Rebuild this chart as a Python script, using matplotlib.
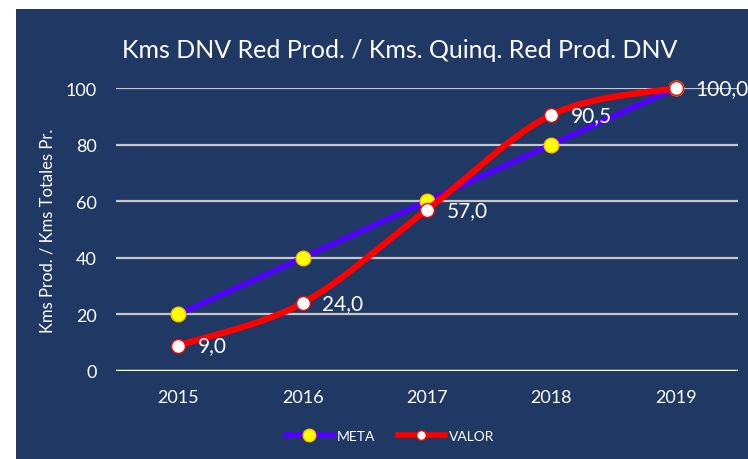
import numpy as np
import matplotlib.pyplot as plt
from matplotlib.lines import Line2D

# ================= DATA =================
years = ["2015", "2016", "2017", "2018", "2019"]
meta = [20, 40, 60, 80, 100]
valor = [9.0, 24.0, 57.0, 90.5, 100.0]
valor_labels = ["9,0", "24,0", "57,0", "90,5", "100,0"]
y_ticks = [0, 20, 40, 60, 80, 100]

# ================= STYLE =================
NAVY = "#203864"
FONT = ["Lato", "DejaVu Sans"]
plt.rcParams["font.family"] = FONT


def smooth(xs, ys, n=40):
    # Excel-like smoothed line: cubic bezier through the points
    xs = np.asarray(xs, float)
    ys = np.asarray(ys, float)
    px, py = [], []
    for i in range(len(xs) - 1):
        i0 = max(i - 1, 0)
        i3 = min(i + 2, len(xs) - 1)
        c1x = xs[i] + (xs[i + 1] - xs[i0]) / 6
        c1y = ys[i] + (ys[i + 1] - ys[i0]) / 6
        c2x = xs[i + 1] - (xs[i3] - xs[i]) / 6
        c2y = ys[i + 1] - (ys[i3] - ys[i]) / 6
        t = np.linspace(0, 1, n)
        bx = (1-t)**3*xs[i] + 3*(1-t)**2*t*c1x + 3*(1-t)*t**2*c2x + t**3*xs[i+1]
        by = (1-t)**3*ys[i] + 3*(1-t)**2*t*c1y + 3*(1-t)*t**2*c2y + t**3*ys[i+1]
        px.extend(bx)
        py.extend(by)
    return np.array(px), np.array(py)


fig = plt.figure(figsize=(7.48, 4.6), dpi=100)
fig.patch.set_facecolor("white")

# navy chart area
bg = fig.add_axes([16 / 748, 0, 1 - 16 / 748, 1 - 10 / 460], zorder=0)
bg.set_facecolor(NAVY)
bg.set_xticks([])
bg.set_yticks([])
for s in bg.spines.values():
    s.set_visible(False)

ax = fig.add_axes([116 / 748, 1 - 372 / 460, (738 - 116) / 748, (372 - 89) / 460], zorder=1)
ax.patch.set_alpha(0)

x = np.arange(len(years))

# gridlines
for v in y_ticks[1:]:
    ax.axhline(v, color="#C8C8C8", lw=1.6, zorder=1)
ax.axhline(0, color="white", lw=2.5, zorder=1)

# META
ax.plot(x, meta, color="#5000FF", lw=4, zorder=3, solid_capstyle="round",
        marker="o", ms=10.5, mfc="#FFFF00", mec="#FFC000", mew=1.0, clip_on=False)

# VALOR (smoothed)
sx, sy = smooth(x, valor)
ax.plot(sx, sy, color="#FF0000", lw=4.5, zorder=4, solid_capstyle="round", clip_on=False)
ax.plot(x, valor, ls="none", marker="o", ms=10, mfc="white", mec="#FF0000",
        mew=1.0, zorder=5, clip_on=False)

for xi, v, lab in zip(x, valor, valor_labels):
    ax.annotate(lab, (xi, v), xytext=(14, 0), textcoords="offset points",
                ha="left", va="center", color="white", fontsize=15, zorder=6)

ax.set_xlim(-0.5, len(years) - 0.5)
ax.set_ylim(0, 100)
ax.set_xticks(x)
ax.set_xticklabels(years)
ax.set_yticks(y_ticks)
ax.tick_params(colors="white", length=0, labelsize=13)
ax.tick_params(axis="x", pad=13)
ax.tick_params(axis="y", pad=14)
for s in ax.spines.values():
    s.set_visible(False)

ax.set_ylabel("Kms Prod. / Kms Totales Pr.", color="white", fontsize=12)
ax.yaxis.set_label_coords(-0.098, 0.5)

fig.text(400 / 748, 1 - 50 / 460, "Kms DNV Red Prod. / Kms. Quinq. Red Prod. DNV",
         ha="center", va="center", color="white", fontsize=18)

# legend
handles = [
    Line2D([], [], color="#5000FF", lw=4, marker="o", ms=9, mfc="#FFFF00", mec="#FFC000"),
    Line2D([], [], color="#FF0000", lw=4, marker="o", ms=7, mfc="white", mec="#FF0000"),
]
leg = fig.legend(handles, ["META", "VALOR"], loc="center", bbox_to_anchor=(390 / 748, 1 - 437 / 460),
                 ncol=2, frameon=False, fontsize=10, labelcolor="white",
                 handlelength=3.4, columnspacing=1.6, handletextpad=0.3)

fig.savefig("out.png", dpi=100, facecolor="white")
